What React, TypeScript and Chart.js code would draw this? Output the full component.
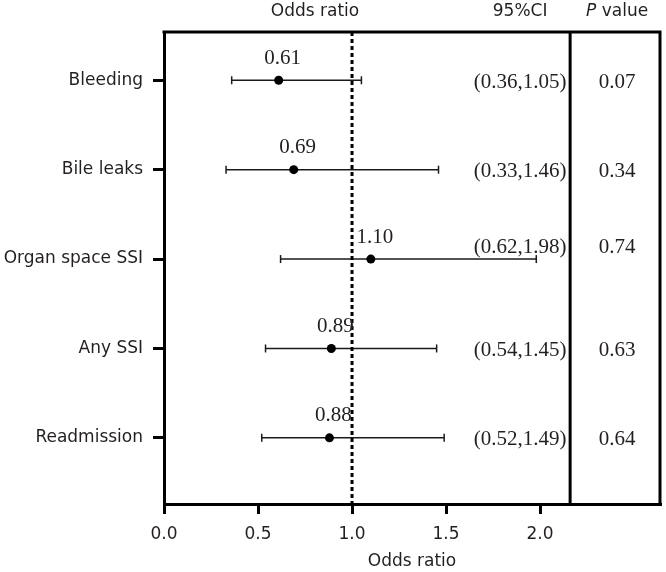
import React, { useEffect, useRef } from "react";
import { Chart, registerables } from "chart.js";

Chart.register(...registerables);

const categories = ["Bleeding", "Bile leaks", "Organ space SSI", "Any SSI", "Readmission"];
const oddsRatios = [0.61, 0.69, 1.1, 0.89, 0.88];
const ciLower = [0.36, 0.33, 0.62, 0.54, 0.52];
const ciUpper = [1.05, 1.46, 1.98, 1.45, 1.49];
const pValues = ["0.07", "0.34", "0.74", "0.63", "0.64"];
const xTickValues = [0, 0.5, 1.0, 1.5, 2.0];
const referenceOR = 1;

// layout / style (not data)
const X_MAX = 2.638;
const DIVIDER_AT = 2.16;
const CI_COLUMN_AT = 1.894;
const P_COLUMN_AT = 2.41;
const Y_MIN = -0.54;
const Y_MAX = 4.74;
const ciTextRaised = [false, false, true, false, false];
const TEXT = "#231f20";
const SANS = "'DejaVu Sans', Verdana, sans-serif";
const SERIF = "'Liberation Serif', 'Times New Roman', serif";

const forestPlugin = {
  id: "forestExtras",
  afterDatasetsDraw(chart: any) {
    const { ctx, chartArea: a, scales } = chart;
    const xs = scales.x;
    const ys = scales.y;
    ctx.save();
    ctx.strokeStyle = "#000";
    ctx.lineWidth = 3;

    // reference dotted line
    const rx = xs.getPixelForValue(referenceOR);
    ctx.setLineDash([4, 3]);
    ctx.beginPath();
    ctx.moveTo(rx, a.top);
    ctx.lineTo(rx, a.bottom);
    ctx.stroke();
    ctx.setLineDash([]);

    // divider
    const dx = xs.getPixelForValue(DIVIDER_AT);
    ctx.beginPath();
    ctx.moveTo(dx, a.top);
    ctx.lineTo(dx, a.bottom);
    ctx.stroke();

    // top & right border
    ctx.beginPath();
    ctx.moveTo(a.left - 1.5, a.top);
    ctx.lineTo(a.right + 1.5, a.top);
    ctx.moveTo(a.right, a.top);
    ctx.lineTo(a.right, a.bottom + 1.5);
    ctx.stroke();

    // value labels, CI text, p values
    ctx.fillStyle = TEXT;
    ctx.font = `21px ${SERIF}`;
    ctx.textAlign = "center";
    ctx.textBaseline = "middle";
    const ciX = xs.getPixelForValue(CI_COLUMN_AT);
    const pX = xs.getPixelForValue(P_COLUMN_AT);
    categories.forEach((_, i) => {
      const py = ys.getPixelForValue(i);
      const px = xs.getPixelForValue(oddsRatios[i]);
      ctx.fillText(oddsRatios[i].toFixed(2), px + 4, py - 22);
      const ty = ciTextRaised[i] ? py - 12 : py + 2;
      ctx.fillText(`(${ciLower[i].toFixed(2)},${ciUpper[i].toFixed(2)})`, ciX, ty);
      ctx.fillText(pValues[i], pX, ty);
    });

    // headers
    ctx.font = `17px ${SANS}`;
    ctx.fillText("Odds ratio", 315, 12);
    ctx.fillText("95%CI", ciX, 12);
    // "P value" with italic P
    ctx.font = `italic 17px ${SANS}`;
    const wP = ctx.measureText("P").width;
    ctx.font = `17px ${SANS}`;
    const wRest = ctx.measureText(" value").width;
    const start = pX - (wP + wRest) / 2;
    ctx.textAlign = "left";
    ctx.font = `italic 17px ${SANS}`;
    ctx.fillText("P", start, 12);
    ctx.font = `17px ${SANS}`;
    ctx.fillText(" value", start + wP, 12);

    // bottom axis title
    ctx.textAlign = "center";
    ctx.fillText("Odds ratio", (a.left + a.right) / 2, 562);
    ctx.restore();
  },
};

export default function App() {
  const ref = useRef<HTMLCanvasElement>(null);

  useEffect(() => {
    if (!ref.current) return;
    const ciDatasets = categories.map((c, i) => ({
      label: c + " CI",
      data: [
        { x: ciLower[i], y: i },
        { x: ciUpper[i], y: i },
      ],
      showLine: true,
      borderColor: "#1a1a1a",
      borderWidth: 1.5,
      pointStyle: "line",
      pointRotation: 90,
      pointRadius: 4,
      pointBorderWidth: 1.5,
      pointBorderColor: "#1a1a1a",
      pointBackgroundColor: "#1a1a1a",
    }));
    const chart = new Chart(ref.current, {
      type: "scatter",
      data: {
        datasets: [
          {
            label: "Odds ratio",
            data: oddsRatios.map((v, i) => ({ x: v, y: i })),
            pointRadius: 4.5,
            pointBackgroundColor: "#000",
            pointBorderColor: "#000",
            pointBorderWidth: 0,
          } as any,
          ...ciDatasets,
        ],
      },
      options: {
        responsive: false,
        animation: false,
        layout: { padding: { top: 32, right: 6, left: 0, bottom: 0 } },
        plugins: {
          legend: { display: false },
          tooltip: { enabled: false },
        },
        scales: {
          x: {
            type: "linear",
            min: 0,
            max: X_MAX,
            afterBuildTicks: (s: any) => {
              s.ticks = xTickValues.map((v) => ({ value: v }));
            },
            afterFit: (s: any) => {
              s.height = 68;
            },
            ticks: {
              color: TEXT,
              font: { family: SANS, size: 17 },
              padding: 10,
              maxRotation: 0,
              autoSkip: false,
              callback: (v: any) => Number(v).toFixed(1),
            },
            grid: {
              drawOnChartArea: false,
              drawTicks: true,
              tickLength: 10,
              lineWidth: 3,
              color: "#000",
            },
            border: { display: true, width: 3, color: "#000" },
          },
          y: {
            type: "linear",
            reverse: true,
            min: Y_MIN,
            max: Y_MAX,
            afterBuildTicks: (s: any) => {
              s.ticks = categories.map((_, i) => ({ value: i }));
            },
            afterFit: (s: any) => {
              s.width = 164;
            },
            ticks: {
              color: TEXT,
              font: { family: SANS, size: 17 },
              padding: 10,
              autoSkip: false,
              callback: (v: any) => categories[Number(v)] ?? "",
            },
            grid: {
              drawOnChartArea: false,
              drawTicks: true,
              tickLength: 11,
              lineWidth: 3,
              color: "#000",
            },
            border: { display: true, width: 3, color: "#000" },
          },
        },
      },
      plugins: [forestPlugin],
    });
    return () => chart.destroy();
  }, []);

  return (
    <div style={{ position: "fixed", left: 0, top: 0, width: 666, height: 572, background: "#fff" }}>
      <canvas ref={ref} width={666} height={572} />
    </div>
  );
}
